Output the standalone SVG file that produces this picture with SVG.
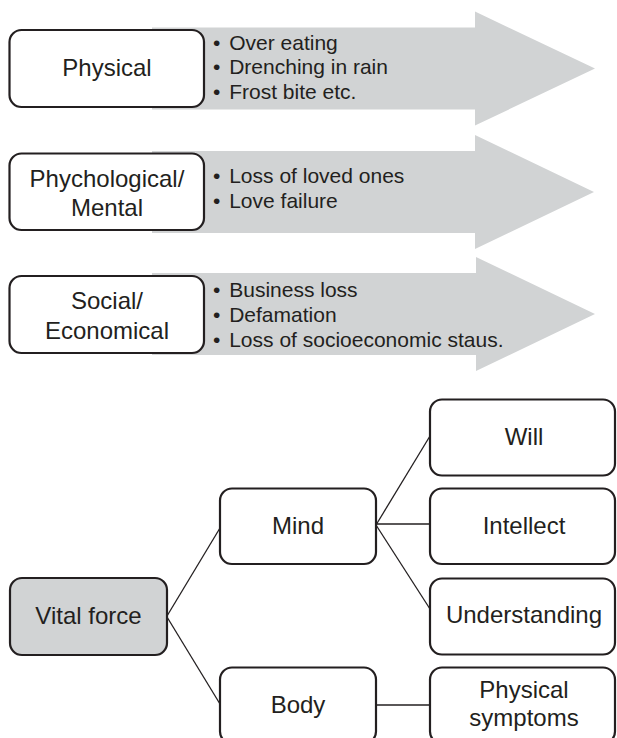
<svg xmlns="http://www.w3.org/2000/svg" width="617" height="738" viewBox="0 0 617 738">
<style>
.arrow{fill:#d1d3d4;stroke:none}
.box{fill:#ffffff;stroke:#231f20;stroke-width:2.2}
.grey{fill:#d1d3d4}
.t{font-family:"Liberation Sans",Arial,sans-serif;font-size:24px;fill:#231f20;text-anchor:middle}
.b{font-family:"Liberation Sans",Arial,sans-serif;font-size:21px;fill:#231f20}
.c{stroke:#231f20;stroke-width:1.3;fill:none}
</style>
<rect width="617" height="738" fill="#ffffff"/>
<g id="arrow-physical">
<polygon class="arrow" points="152,27.5 475,27.5 475,11.5 595,68.5 475,125.5 475,109.5 152,109.5"/>
<text class="b" x="213" y="49.5">•<tspan dx="3"> Over eating</tspan></text>
<text class="b" x="213" y="74">•<tspan dx="3"> Drenching in rain</tspan></text>
<text class="b" x="213" y="98.5">•<tspan dx="3"> Frost bite etc.</tspan></text>
</g>
<g id="arrow-mental">
<polygon class="arrow" points="152,151 475,151 475,135 594,192 475,249 475,233 152,233"/>
<text class="b" x="213" y="182.5">•<tspan dx="3"> Loss of loved ones</tspan></text>
<text class="b" x="213" y="208">•<tspan dx="3"> Love failure</tspan></text>
</g>
<g id="arrow-social">
<polygon class="arrow" points="152,273 476,273 476,257 595,314 476,371 476,355 152,355"/>
<text class="b" x="213" y="297">•<tspan dx="3"> Business loss</tspan></text>
<text class="b" x="213" y="321.5">•<tspan dx="3"> Defamation</tspan></text>
<text class="b" x="213" y="346.5">•<tspan dx="3"> Loss of socioeconomic staus.</tspan></text>
</g>
<g id="physical">
<rect class="box" x="9.5" y="30" width="194.5" height="77" rx="12"/>
<text class="t" x="107" y="76">Physical</text>
</g>
<g id="mental">
<rect class="box" x="9.5" y="153.5" width="194.5" height="76.5" rx="12"/>
<text class="t" x="107" y="187">Phychological/</text>
<text class="t" x="107" y="216">Mental</text>
</g>
<g id="social">
<rect class="box" x="9.5" y="276" width="194.5" height="77" rx="12"/>
<text class="t" x="107" y="308.5">Social/</text>
<text class="t" x="107" y="339">Economical</text>
</g>
<g id="connectors">
<line class="c" x1="167" y1="616" x2="220" y2="528"/>
<line class="c" x1="167" y1="617" x2="220" y2="704"/>
<line class="c" x1="376" y1="525" x2="430" y2="436"/>
<line class="c" x1="376" y1="524" x2="430" y2="524"/>
<line class="c" x1="376" y1="525" x2="430" y2="609"/>
<line class="c" x1="376" y1="705" x2="430" y2="705"/>
</g>
<g id="vital-force">
<rect class="box grey" x="10" y="578" width="157" height="77" rx="12"/>
<text class="t" x="88.5" y="624">Vital force</text>
</g>
<g id="mind">
<rect class="box" x="220" y="488.5" width="156" height="75.5" rx="12"/>
<text class="t" x="298" y="534">Mind</text>
</g>
<g id="body">
<rect class="box" x="220" y="667.5" width="156" height="76" rx="12"/>
<text class="t" x="298" y="713">Body</text>
</g>
<g id="will">
<rect class="box" x="430" y="399.5" width="185" height="76" rx="12"/>
<text class="t" x="524" y="445">Will</text>
</g>
<g id="intellect">
<rect class="box" x="430" y="488.5" width="185" height="75.5" rx="12"/>
<text class="t" x="524" y="534">Intellect</text>
</g>
<g id="understanding">
<rect class="box" x="430" y="578.5" width="185" height="76" rx="12"/>
<text class="t" x="524" y="623">Understanding</text>
</g>
<g id="physical-symptoms">
<rect class="box" x="430" y="667.5" width="185" height="76" rx="12"/>
<text class="t" x="524" y="698">Physical</text>
<text class="t" x="524" y="726">symptoms</text>
</g>
</svg>
